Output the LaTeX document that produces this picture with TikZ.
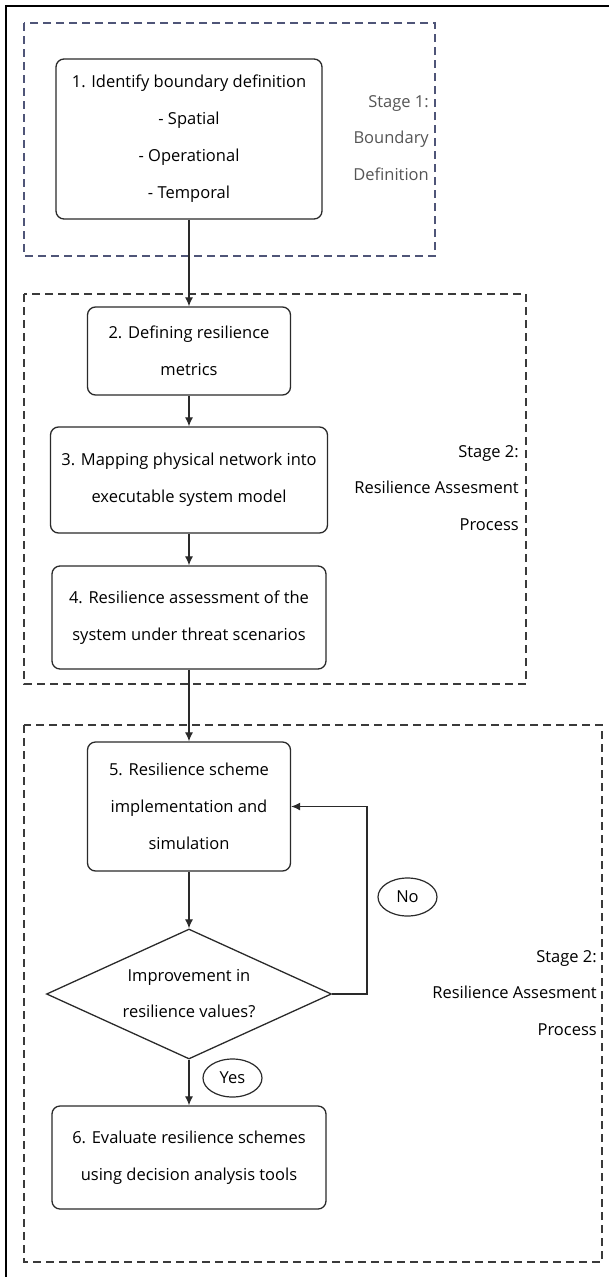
\documentclass[tikz,border=0pt]{standalone}
\usepackage{fontspec}
\setmainfont{Open Sans}
\usetikzlibrary{shapes.geometric,arrows.meta}
\definecolor{stageone}{HTML}{4F5578}
\definecolor{stagetwo}{HTML}{3A3A3A}
\definecolor{boxline}{HTML}{2A2A2A}
\definecolor{labelgray}{HTML}{555555}
\tikzset{
  flowbox/.style={draw=boxline, line width=1.3pt, rounded corners=8pt, align=center,
    inner sep=0pt, font=\fontsize{16.5}{37}\selectfont},
  decision/.style={draw=boxline, line width=1.3pt, diamond, aspect=2.2, align=center,
    inner sep=0pt, font=\fontsize{16.5}{36}\selectfont},
  stagebox/.style={dashed, dash pattern=on 8pt off 5pt, line width=1.4pt},
  stagelabel/.style={align=right, anchor=east, inner sep=0pt, font=\fontsize{16.5}{36.5}\selectfont},
  tagoval/.style={draw=boxline, line width=1.2pt, ellipse, minimum width=59pt, minimum height=38pt,
    inner sep=0pt, font=\fontsize{16.5}{20}\selectfont},
  flowarrow/.style={draw=boxline, line width=1.2pt, -{Latex[length=9pt,width=8pt]}}
}
\begin{document}
\begin{tikzpicture}[x=1pt, y=-1pt]
\useasboundingbox (0,0) rectangle (609,1277);
% outer frame (cropped on right and bottom)
\draw[line width=2pt] (6,1280) -- (6,6) -- (612,6);
% stage boxes
\draw[stagebox, draw=stageone] (24,23) rectangle (435,256);
\draw[stagebox, draw=stagetwo] (24,294) rectangle (526,684);
\draw[stagebox, draw=stagetwo] (24,725) rectangle (602,1262);
% stage labels
\node[stagelabel, text=labelgray] (s1) at (429,138) {Stage 1:\\Boundary\\Definition};
\node[stagelabel, text=black] (s2) at (519,488) {Stage 2:\\Resilience Assesment\\Process};
\node[stagelabel, text=black] (s3) at (597,993) {Stage 2:\\Resilience Assesment\\Process};
% boxes
\node[flowbox, minimum width=266pt, minimum height=160pt] (b1) at (189,139)
  {1. Identify boundary definition\\- Spatial\\- Operational\\- Temporal};
\node[flowbox, minimum width=203pt, minimum height=88pt] (b2) at (189,351)
  {2. Defining resilience\\metrics};
\node[flowbox, minimum width=277pt, minimum height=106pt] (b3) at (189,480)
  {3. Mapping physical network into\\executable system model};
\node[flowbox, minimum width=274pt, minimum height=103pt] (b4) at (189,617.5)
  {4. Resilience assessment of the\\system under threat scenarios};
\node[flowbox, minimum width=203pt, minimum height=129pt] (b5) at (189,806.5)
  {5. Resilience scheme\\implementation and\\simulation};
\node[decision, minimum width=285pt, minimum height=130pt] (d) at (189,994)
  {Improvement in\\resilience values?};
\node[flowbox, minimum width=274pt, minimum height=103pt] (b6) at (189,1157.5)
  {6. Evaluate resilience schemes\\using decision analysis tools};
% tags
\node[tagoval] (no) at (407.5,897) {No};
\node[tagoval] (yes) at (232.5,1078) {Yes};
% connectors
\coordinate (loopc) at (367,994);
\draw[flowarrow] (b1.south) -- (b2.north);
\draw[flowarrow] (b2.south) -- (b3.north);
\draw[flowarrow] (b3.south) -- (b4.north);
\draw[flowarrow] (b4.south) -- (b5.north);
\draw[flowarrow] (b5.south) -- (d.north);
\draw[flowarrow] (d.south) -- (b6.north);
\draw[flowarrow] (d.east) -- (loopc) |- (b5.east);
\end{tikzpicture}
\end{document}
